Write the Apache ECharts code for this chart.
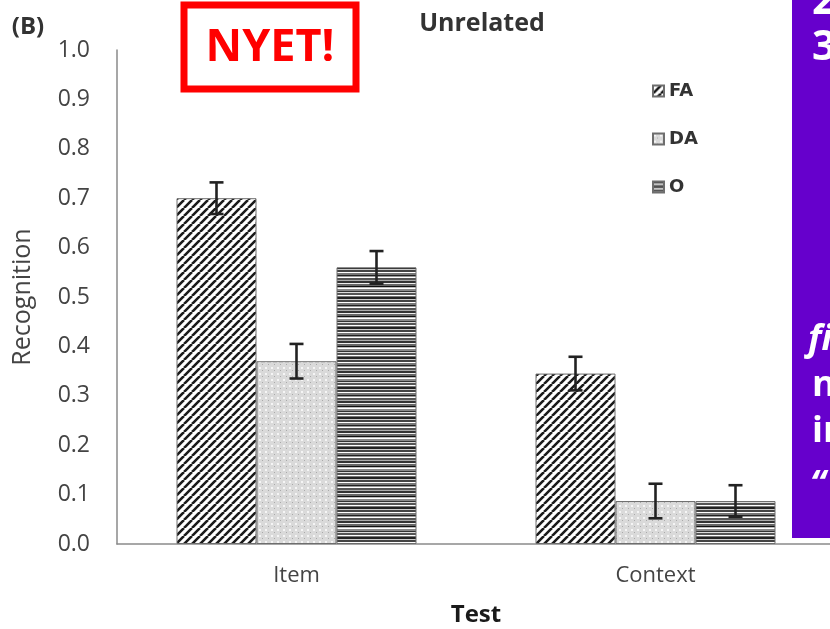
<!DOCTYPE html>
<html>
<head>
<meta charset="utf-8">
<style>
  html, body { margin: 0; padding: 0; background: #fff; }
  #chart { width: 830px; height: 629px; }
</style>
<script src="https://cdn.jsdelivr.net/npm/echarts@6/dist/echarts.min.js"></script>
</head>
<body>
<div id="chart"></div>
<script>
// Recognition rates by test type, unrelated condition
const categories = ['Item', 'Context'];
const seriesNames = ['FA', 'DA', 'O'];
const faMean = [0.70, 0.345];
const faErr  = [0.032, 0.034];
const daMean = [0.37, 0.087];
const daErr  = [0.035, 0.035];
const oMean  = [0.56, 0.087];
const oErr   = [0.033, 0.032];
const yTicks = ['0.0','0.1','0.2','0.3','0.4','0.5','0.6','0.7','0.8','0.9','1.0'];

const BAR_W = 80;
const FONT = '"Open Sans", sans-serif';

// --- fill patterns ---
function hatchPattern() {
  const s = 8, c = document.createElement('canvas');
  c.width = s; c.height = s;
  const g = c.getContext('2d');
  g.fillStyle = '#fff'; g.fillRect(0, 0, s, s);
  g.strokeStyle = '#1a1a1a'; g.lineWidth = 2.6;
  g.beginPath();
  for (let k = -1; k <= 1; k++) {
    g.moveTo(k * s, s); g.lineTo(k * s + s, 0);
  }
  g.stroke();
  return c;
}
function dotPattern() {
  const s = 6, c = document.createElement('canvas');
  c.width = s; c.height = s;
  const g = c.getContext('2d');
  g.fillStyle = '#dadada'; g.fillRect(0, 0, s, s);
  g.fillStyle = '#f5f5f5'; g.fillRect(1, 1, 2, 2);
  g.fillStyle = '#aaaaaa'; g.fillRect(4, 4, 1, 1);
  return c;
}
function stripePattern() {
  // horizontal bands of assorted greys
  const bands = [['#444',2],['#fff',1],['#777',2],['#222',1],['#999',1],['#fff',1],['#555',2],['#aaa',1],
                 ['#333',2],['#eee',1],['#666',2],['#111',1],['#bbb',1],['#fff',1],['#888',2],['#333',1],
                 ['#ddd',1],['#555',2],['#fff',1],['#777',1],['#222',2],['#ccc',1]];
  const h = bands.reduce((a, b) => a + b[1], 0);
  const c = document.createElement('canvas');
  c.width = 4; c.height = h;
  const g = c.getContext('2d');
  let y = 0;
  bands.forEach(([col, t]) => { g.fillStyle = col; g.fillRect(0, y, 4, t); y += t; });
  return c;
}
const fills = [
  { image: hatchPattern(), repeat: 'repeat' },
  { image: dotPattern(), repeat: 'repeat' },
  { image: stripePattern(), repeat: 'repeat' }
];

const means = [faMean, daMean, oMean];
const errs = [faErr, daErr, oErr];

const barSeries = seriesNames.map((name, i) => ({
  name,
  type: 'bar',
  barWidth: BAR_W,
  barGap: '0%',
  data: means[i],
  itemStyle: { color: fills[i], borderColor: '#6e6e6e', borderWidth: 1 },
  emphasis: { disabled: true },
  z: 2
}));

// error bar rows: [category index, low, high, group index]
const errRows = [];
means.forEach((m, gi) => m.forEach((v, ci) => errRows.push([ci, v - errs[gi][ci], v + errs[gi][ci], gi])));

const errSeries = {
  type: 'custom',
  name: 'err',
  data: errRows,
  z: 5,
  silent: true,
  encode: { x: 0, y: [1, 2] },
  renderItem(params, api) {
    const ci = api.value(0), gi = api.value(3);
    const lo = api.coord([ci, api.value(1)]);
    const hi = api.coord([ci, api.value(2)]);
    const x = lo[0] + (gi - 1) * BAR_W;
    const cap = 7;
    const st = { stroke: '#222', lineWidth: 2.6, fill: null };
    return {
      type: 'group',
      children: [
        { type: 'line', shape: { x1: x, y1: lo[1], x2: x, y2: hi[1] }, style: st },
        { type: 'line', shape: { x1: x - cap, y1: hi[1], x2: x + cap, y2: hi[1] }, style: st },
        { type: 'line', shape: { x1: x - cap, y1: lo[1], x2: x + cap, y2: lo[1] }, style: st }
      ]
    };
  }
};

const panelText = (text, x, y, size, italic) => ({
  type: 'text', x, y, z: 21,
  style: {
    text, fill: '#fff', fontFamily: FONT, fontWeight: 'bold', fontSize: size,
    fontStyle: italic ? 'italic' : 'normal', verticalAlign: 'middle'
  }
});

const chart = echarts.init(document.getElementById('chart'), null, { renderer: 'canvas' });
chart.setOption({
  animation: false,
  backgroundColor: '#fff',
  grid: { left: 117, top: 50, width: 718, height: 494, containLabel: false, outerBoundsMode: 'none' },
  legend: {
    data: seriesNames,
    orient: 'vertical',
    left: 652, top: 82,
    padding: 0,
    itemWidth: 11, itemHeight: 11, itemGap: 30,
    icon: 'rect',
    textStyle: { fontFamily: '"DejaVu Sans", sans-serif', fontWeight: 'bold', fontSize: 18, color: '#333', padding: [0, 0, 0, 0] },
    selectedMode: false
  },
  xAxis: {
    type: 'category',
    data: categories,
    name: 'Test',
    nameLocation: 'middle',
    nameGap: 59,
    nameTextStyle: { fontFamily: FONT, fontWeight: 'bold', fontSize: 24, color: '#1a1a1a' },
    axisLine: { lineStyle: { color: '#8a8a8a', width: 1.5 } },
    axisTick: { show: false },
    axisLabel: { fontFamily: FONT, fontSize: 22, color: '#444', margin: 21 }
  },
  yAxis: {
    type: 'value',
    min: 0, max: 1, interval: 0.1,
    name: 'Recognition',
    nameLocation: 'middle',
    nameGap: 82,
    nameTextStyle: { fontFamily: FONT, fontSize: 25, color: '#444' },
    axisLine: { show: true, lineStyle: { color: '#8a8a8a', width: 1.5 } },
    axisTick: { show: false },
    splitLine: { show: false },
    axisLabel: {
      fontFamily: FONT, fontSize: 23, color: '#444', margin: 27,
      formatter: (v) => yTicks[Math.round(v * 10)]
    }
  },
  series: [...barSeries, errSeries],
  graphic: [
    { type: 'text', x: 28, y: 27, z: 12, style: { text: '(B)', fontFamily: FONT, fontWeight: 'bold', fontSize: 24, fill: '#333', align: 'center', verticalAlign: 'middle' } },
    { type: 'text', x: 482, y: 24, style: { text: 'Unrelated', fontFamily: FONT, fontWeight: 'bold', fontSize: 25, fill: '#333', align: 'center', verticalAlign: 'middle' } },
    // red stamp
    { type: 'rect', shape: { x: 184, y: 5, width: 172, height: 84 }, style: { fill: '#fff', stroke: '#ff0000', lineWidth: 7 }, z: 10 },
    { type: 'text', x: 270, y: 48, z: 11, style: { text: 'NYET!', fontFamily: FONT, fontWeight: 'bold', fontSize: 45, fill: '#ff0000', align: 'center', verticalAlign: 'middle' } },
    // purple side panel
    { type: 'rect', shape: { x: 792, y: 0, width: 40, height: 538 }, style: { fill: '#6600cc' }, z: 20 },
    panelText('2', 812, 2, 42, false),
    panelText('3', 812, 48, 42, false),
    panelText('fi', 808, 340, 36, true),
    panelText('n', 812, 386, 36, false),
    panelText('in', 812, 432, 36, false),
    panelText('\u201c', 810, 486, 36, true)
  ]
});
</script>
</body>
</html>
